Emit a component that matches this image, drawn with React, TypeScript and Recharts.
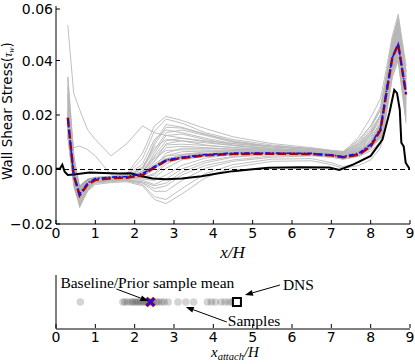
import React from "react";
import {
  ComposedChart,
  Line,
  Area,
  XAxis,
  YAxis,
  ReferenceLine,
  ScatterChart,
  Scatter,
  ReferenceDot,
} from "recharts";

// x/H stations shared by baseline, prior mean, band and samples
const xGrid = [0.3, 0.45, 0.6, 0.8, 1.0, 1.4, 1.8, 2.2, 2.5, 2.8, 3.2, 3.8, 4.5, 5.5, 6.5, 7.0, 7.3, 7.7, 8.0, 8.25, 8.4, 8.55, 8.7, 8.9];

const baseline = [0.019, -0.002, -0.0095, -0.0055, -0.0038, -0.0032, -0.003, -0.002, 0.0008, 0.0032, 0.0042, 0.0052, 0.0057, 0.0058, 0.0057, 0.0052, 0.0045, 0.0055, 0.0085, 0.0145, 0.028, 0.041, 0.046, 0.0275];
const priorMean = [0.0185, -0.002, -0.009, -0.005, -0.0033, -0.0028, -0.0026, -0.0015, 0.001, 0.0035, 0.0045, 0.0055, 0.006, 0.006, 0.0059, 0.0053, 0.0047, 0.006, 0.0092, 0.015, 0.029, 0.041, 0.046, 0.028];

const bandLow = [0.012, -0.006, -0.0135, -0.0075, -0.0042, -0.0035, -0.0033, -0.0025, 0.0003, 0.0028, 0.0039, 0.0049, 0.0055, 0.0056, 0.0055, 0.0049, 0.0042, 0.0052, 0.008, 0.012, 0.024, 0.036, 0.041, 0.02];
const bandHigh = [0.034, 0.005, -0.006, -0.0035, -0.0028, -0.0025, -0.0023, -0.0012, 0.0015, 0.0039, 0.0048, 0.0058, 0.0062, 0.0062, 0.0061, 0.0056, 0.005, 0.0065, 0.0098, 0.017, 0.033, 0.047, 0.054, 0.036];

const samples = [
  [0.053, 0.028, 0.022, 0.0147, 0.011, 0.005, 0.0095, 0.016, 0.0135, 0.0125, 0.0115, 0.0105, 0.0095, 0.0085, 0.0078, 0.007, 0.0066, 0.0095, 0.014, 0.02, 0.031, 0.044, 0.052, 0.034],
  [0.028, 0.004, -0.012, -0.007, -0.004, -0.003, -0.0015, 0.006, 0.016, 0.0195, 0.018, 0.015, 0.012, 0.0095, 0.008, 0.007, 0.0066, 0.011, 0.016, 0.022, 0.034, 0.047, 0.056, 0.036],
  [0.022, 0.008, 0.0086, 0.0073, 0.005, -0.002, -0.002, 0.004, 0.014, 0.0185, 0.017, 0.0135, 0.011, 0.009, 0.0075, 0.0065, 0.006, 0.0095, 0.014, 0.02, 0.031, 0.044, 0.054, 0.033],
  [0.03, 0.002, -0.013, -0.008, -0.0045, -0.0035, -0.003, -0.0005, 0.01, 0.0165, 0.0155, 0.013, 0.0105, 0.0085, 0.0072, 0.0062, 0.0058, 0.009, 0.013, 0.018, 0.03, 0.043, 0.052, 0.03],
  [0.015, -0.003, -0.01, -0.006, -0.004, -0.0035, -0.003, -0.001, 0.006, 0.0125, 0.013, 0.011, 0.009, 0.0078, 0.007, 0.006, 0.0055, 0.008, 0.012, 0.017, 0.029, 0.042, 0.05, 0.029],
  [0.025, 0.001, -0.011, -0.006, -0.0035, -0.003, -0.0025, 0.001, 0.008, 0.011, 0.0105, 0.009, 0.008, 0.0072, 0.0066, 0.0058, 0.0052, 0.0075, 0.011, 0.016, 0.028, 0.041, 0.049, 0.031],
  [0.018, -0.002, -0.009, -0.0055, -0.004, -0.003, -0.0028, -0.002, 0.003, 0.008, 0.0085, 0.008, 0.0075, 0.007, 0.0064, 0.0056, 0.005, 0.007, 0.01, 0.015, 0.028, 0.04, 0.048, 0.028],
  [0.02, -0.001, -0.012, -0.007, -0.005, -0.004, -0.0035, -0.0025, 0.0, 0.005, 0.0065, 0.0068, 0.0068, 0.0066, 0.0062, 0.0055, 0.0048, 0.0065, 0.0095, 0.014, 0.026, 0.039, 0.046, 0.026],
  [0.014, -0.004, -0.008, -0.005, -0.0035, -0.003, -0.003, -0.003, -0.002, 0.002, 0.0045, 0.0058, 0.0063, 0.0064, 0.006, 0.0053, 0.0046, 0.006, 0.0088, 0.0135, 0.026, 0.039, 0.045, 0.025],
  [0.022, 0.0, -0.01, -0.006, -0.004, -0.0035, -0.0032, -0.0035, -0.004, -0.002, 0.0015, 0.0042, 0.0055, 0.006, 0.0058, 0.005, 0.0043, 0.0058, 0.0085, 0.0125, 0.025, 0.038, 0.044, 0.024],
  [0.016, -0.003, -0.011, -0.0065, -0.0045, -0.004, -0.0038, -0.0045, -0.006, -0.005, -0.001, 0.0025, 0.0045, 0.0055, 0.0055, 0.0048, 0.0042, 0.0055, 0.008, 0.012, 0.024, 0.037, 0.043, 0.022],
  [0.026, 0.002, -0.013, -0.0075, -0.005, -0.0045, -0.004, -0.005, -0.008, -0.008, -0.004, 0.0005, 0.003, 0.0045, 0.005, 0.0045, 0.0038, 0.005, 0.0075, 0.0115, 0.023, 0.036, 0.042, 0.021],
  [0.013, -0.004, -0.01, -0.006, -0.0045, -0.004, -0.0042, -0.0055, -0.01, -0.011, -0.007, -0.0015, 0.0018, 0.0038, 0.004, 0.0025, 0.001, 0.0025, 0.005, 0.0095, 0.022, 0.035, 0.041, 0.019],
  [0.024, 0.001, -0.014, -0.008, -0.0055, -0.0048, -0.0045, -0.006, -0.011, -0.0125, -0.009, -0.003, 0.0008, 0.003, 0.0032, 0.0018, 0.0004, 0.0015, 0.0035, 0.008, 0.02, 0.034, 0.04, 0.018],
  [0.019, -0.002, -0.0095, -0.005, -0.0035, -0.003, -0.0028, -0.001, 0.004, 0.007, 0.0072, 0.0072, 0.007, 0.0068, 0.0066, 0.006, 0.0055, 0.008, 0.0125, 0.019, 0.032, 0.045, 0.053, 0.032],
  [0.012, -0.005, -0.008, -0.0045, -0.003, -0.0027, -0.0025, -0.0015, 0.002, 0.005, 0.0055, 0.006, 0.0062, 0.0062, 0.0062, 0.0058, 0.0052, 0.0085, 0.013, 0.02, 0.033, 0.046, 0.055, 0.034],
  [0.034, 0.006, -0.012, -0.006, -0.0035, -0.0025, -0.002, 0.002, 0.011, 0.0145, 0.0135, 0.0115, 0.0095, 0.0082, 0.0075, 0.0068, 0.0062, 0.012, 0.019, 0.026, 0.037, 0.049, 0.057, 0.038],
  [0.021, -0.001, -0.011, -0.0065, -0.0048, -0.0042, -0.004, -0.0048, -0.007, -0.006, -0.002, 0.0015, 0.0035, 0.005, 0.0052, 0.0046, 0.0038, 0.0048, 0.0068, 0.01, 0.021, 0.034, 0.04, 0.017],
  [0.017, -0.003, -0.0105, -0.006, -0.004, -0.0033, -0.003, -0.0025, 0.001, 0.004, 0.0052, 0.0058, 0.006, 0.0058, 0.0056, 0.005, 0.0044, 0.0062, 0.0095, 0.015, 0.028, 0.041, 0.049, 0.03],
  [0.028, 0.004, -0.0115, -0.006, -0.0038, -0.003, -0.0025, 0.0005, 0.007, 0.0135, 0.0145, 0.0125, 0.01, 0.0085, 0.0075, 0.0068, 0.006, 0.0105, 0.016, 0.023, 0.035, 0.048, 0.055, 0.035],
  [0.02, -0.002, -0.011, -0.0065, -0.0042, -0.0035, -0.003, -0.0015, 0.003, 0.0095, 0.0105, 0.0098, 0.0088, 0.0076, 0.0068, 0.006, 0.0053, 0.0078, 0.0115, 0.017, 0.03, 0.043, 0.05, 0.031],
  [0.023, 0.0, -0.0125, -0.007, -0.0045, -0.0038, -0.0034, -0.003, -0.003, 0.0005, 0.0035, 0.005, 0.0058, 0.006, 0.0057, 0.0051, 0.0044, 0.0058, 0.0085, 0.013, 0.026, 0.039, 0.046, 0.026],
  [0.016, -0.003, -0.0095, -0.0055, -0.0037, -0.003, -0.0027, -0.0008, 0.005, 0.0105, 0.0115, 0.0102, 0.0088, 0.0076, 0.0069, 0.0062, 0.0057, 0.0088, 0.0135, 0.02, 0.033, 0.046, 0.053, 0.033],
  [0.027, 0.002, -0.0125, -0.007, -0.0046, -0.004, -0.0037, -0.004, -0.0055, -0.0035, 0.0002, 0.0032, 0.0048, 0.0057, 0.0058, 0.0051, 0.0043, 0.0054, 0.008, 0.0125, 0.025, 0.038, 0.044, 0.023],
  [0.019, -0.002, -0.01, -0.0058, -0.0038, -0.0031, -0.0028, -0.0012, 0.0045, 0.009, 0.0093, 0.0088, 0.0081, 0.0074, 0.0068, 0.006, 0.0054, 0.0072, 0.0105, 0.016, 0.029, 0.042, 0.05, 0.03],
  [0.021, -0.001, -0.0105, -0.006, -0.0041, -0.0036, -0.0033, -0.0028, -0.0015, 0.003, 0.0055, 0.0065, 0.0067, 0.0066, 0.0063, 0.0055, 0.0047, 0.0062, 0.0092, 0.014, 0.027, 0.04, 0.047, 0.027],
  [0.031, 0.003, -0.0125, -0.0068, -0.004, -0.0032, -0.0028, 0.0003, 0.009, 0.0155, 0.0152, 0.0128, 0.0102, 0.0084, 0.0074, 0.0066, 0.006, 0.0098, 0.015, 0.022, 0.034, 0.047, 0.055, 0.036],
  [0.015, -0.004, -0.009, -0.0052, -0.0036, -0.003, -0.0028, -0.0022, 0.0008, 0.006, 0.0078, 0.0078, 0.0074, 0.007, 0.0065, 0.0058, 0.0051, 0.0068, 0.01, 0.015, 0.028, 0.041, 0.048, 0.029],
];

// DNS wall shear stress
const dnsX = [0, 0.1, 0.16, 0.22, 0.3, 0.45, 0.85, 1.2, 1.6, 1.9, 2.15, 2.45, 2.8, 3.2, 3.7, 4.1, 4.5, 5.0, 5.4, 6.2, 6.95, 7.2, 7.55, 8.0, 8.3, 8.48, 8.6, 8.67, 8.74, 8.78, 8.84, 8.89, 9.0];
const dnsTau = [0.0003, 0.0003, 0.0018, -0.0008, -0.002, -0.0018, -0.0011, -0.0013, -0.0015, -0.0014, -0.0024, -0.0033, -0.0036, -0.0033, -0.0025, -0.0015, -0.0006, 0.0001, 0.0006, 0.0008, 0.0007, -0.0002, 0.0018, 0.005, 0.011, 0.021, 0.0292, 0.028, 0.022, 0.0098, 0.0085, 0.0025, 0.0];

const xTicks = [0, 1, 2, 3, 4, 5, 6, 7, 8, 9];
const yTicks = [-0.02, 0, 0.02, 0.04, 0.06];
const yTickLabels = ["\u22120.02", "0.00", "0.02", "0.04", "0.06"];

// reattachment points x_attach/H
const attachSamples = [0.62, 1.7, 1.75, 1.82, 1.9, 1.95, 2.0, 2.05, 2.1, 2.15, 2.2, 2.25, 2.3, 2.35, 2.42, 2.48, 2.55, 2.6, 2.68, 2.75, 2.85, 3.1, 3.3, 3.5, 3.85, 3.95, 4.05, 4.2, 4.3, 4.4, 4.48];
const attachBaseline = 2.4;
const attachDNS = 4.6;

const rows = xGrid.map((x, i) => {
  const r: any = { x, base: baseline[i], mean: priorMean[i], band: [bandLow[i], bandHigh[i]] };
  samples.forEach((s, j) => (r["s" + j] = s[i]));
  return r;
});
const dnsRows = dnsX.map((x, i) => ({ x, tau: dnsTau[i] }));

const tickFont = { fontFamily: "DejaVu Sans", fontSize: 14, fill: "#000" };
const serif = "Liberation Serif";

const BottomTick = (p: any) => (
  <g>
    <line x1={p.x} x2={p.x} y1={p.y - 3} y2={p.y - 7} stroke="#000" />
    <text x={p.x} y={p.y} dy="0.75em" textAnchor="middle" {...tickFont}>{p.payload.value}</text>
  </g>
);
const TopTick = (p: any) => <line x1={p.x} x2={p.x} y1={p.y} y2={p.y + 4} stroke="#000" />;
const RightTick = (p: any) => <line x1={p.x} x2={p.x - 4} y1={p.y} y2={p.y} stroke="#000" />;
const LeftTick = (p: any) => (
  <g>
    <line x1={p.x + 3} x2={p.x + 7} y1={p.y} y2={p.y} stroke="#000" />
    <text x={p.x} y={p.y} dy="0.36em" textAnchor="end" {...tickFont}>
      {yTickLabels[yTicks.indexOf(p.payload.value)]}
    </text>
  </g>
);

const Arrow = ({ x1, y1, x2, y2 }: any) => {
  const a = Math.atan2(y2 - y1, x2 - x1);
  const L = 8, W = 3;
  const bx = x2 - L * Math.cos(a), by = y2 - L * Math.sin(a);
  const px = -Math.sin(a) * W, py = Math.cos(a) * W;
  return (
    <g>
      <line x1={x1} y1={y1} x2={bx} y2={by} stroke="#000" strokeWidth={1} />
      <polygon points={`${x2},${y2} ${bx + px},${by + py} ${bx - px},${by - py}`} fill="#000" />
    </g>
  );
};

const dot = (p: any) => <circle cx={p.cx} cy={p.cy} r={3.8} fill="#000" fillOpacity={0.17} />;
const baseMark = (p: any) => (
  <g>
    <path d={`M${p.cx - 4},${p.cy - 4}L${p.cx + 4},${p.cy + 4}M${p.cx - 4},${p.cy + 4}L${p.cx + 4},${p.cy - 4}`} stroke="#b00000" strokeWidth={3.5} />
    <path d={`M${p.cx - 3.5},${p.cy - 3.5}L${p.cx + 3.5},${p.cy + 3.5}M${p.cx - 3.5},${p.cy + 3.5}L${p.cx + 3.5},${p.cy - 3.5}`} stroke="#1010ff" strokeWidth={1.8} />
  </g>
);
const dnsMark = (p: any) => <rect x={p.cx - 4} y={p.cy - 4} width={8} height={8} fill="#fff" stroke="#000" strokeWidth={2} />;

export default function App() {
  return (
    <div style={{ position: "absolute", left: 0, top: 0, width: 415, height: 364, background: "#fff" }}>
      <ComposedChart width={415} height={262} data={rows} margin={{ top: 6, right: 5, bottom: 0, left: 0 }}>
        <XAxis dataKey="x" type="number" domain={[0, 9]} ticks={xTicks} allowDataOverflow height={38}
          tickSize={0} tickMargin={3} tick={BottomTick} axisLine={{ stroke: "#000" }} />
        <XAxis xAxisId="top" orientation="top" type="number" domain={[0, 9]} ticks={xTicks} allowDataOverflow height={0}
          tickSize={0} tickMargin={0} tick={TopTick} axisLine={{ stroke: "#000" }} />
        <YAxis type="number" domain={[-0.02, 0.06]} ticks={yTicks} allowDataOverflow width={56}
          tickSize={0} tickMargin={3} tick={LeftTick} axisLine={{ stroke: "#000" }} />
        <YAxis yAxisId="right" orientation="right" type="number" domain={[-0.02, 0.06]} ticks={yTicks} allowDataOverflow width={0}
          tickSize={0} tickMargin={0} tick={RightTick} axisLine={{ stroke: "#000" }} />
        {samples.map((_, j) => (
          <Line key={j} dataKey={"s" + j} type="linear" stroke="#b8b8b8" strokeWidth={0.9} dot={false} isAnimationActive={false} />
        ))}
        <Area dataKey="band" type="linear" fill="#8c8c8c" fillOpacity={0.7} stroke="#808080" strokeWidth={0.5} isAnimationActive={false} />
        <ReferenceLine y={0} stroke="#000" strokeDasharray="5 3" />
        <Line data={dnsRows} dataKey="tau" type="linear" stroke="#000" strokeWidth={2} dot={false} isAnimationActive={false} />
        <Line dataKey="base" type="linear" stroke="#b00000" strokeWidth={2.5} strokeDasharray="9 3" dot={false} isAnimationActive={false} />
        <Line dataKey="mean" type="linear" stroke="#1010ff" strokeWidth={1.6} strokeDasharray="5 2 1.5 2" dot={false} isAnimationActive={false} />
      </ComposedChart>

      <div style={{ position: "absolute", left: 0, top: 268 }}>
        <ScatterChart width={415} height={81} margin={{ top: 7, right: 5, bottom: 0, left: 0 }}>
          <XAxis dataKey="x" type="number" domain={[0, 9]} ticks={xTicks} allowDataOverflow height={20}
            tickSize={0} tickMargin={2} tick={BottomTick} axisLine={{ stroke: "#000" }} />
          <XAxis xAxisId="top" orientation="top" type="number" domain={[0, 9]} ticks={xTicks} allowDataOverflow height={0}
            tickSize={0} tickMargin={0} tick={TopTick} axisLine={{ stroke: "#000" }} />
          <YAxis dataKey="y" type="number" domain={[0, 1]} allowDataOverflow width={56} tick={false} tickLine={false} axisLine={{ stroke: "#000" }} />
          <YAxis yAxisId="right" orientation="right" type="number" domain={[0, 1]} allowDataOverflow width={0} tick={false} tickLine={false} axisLine={{ stroke: "#000" }} />
          <Scatter data={attachSamples.map((x) => ({ x, y: 0.5 }))} shape={dot} isAnimationActive={false} />
          <Scatter data={[{ x: attachBaseline, y: 0.5 }]} shape={baseMark} isAnimationActive={false} />
          <Scatter data={[{ x: attachDNS, y: 0.5 }]} shape={dnsMark} isAnimationActive={false} />
          <ReferenceDot x={attachBaseline} y={0.5} r={0} ifOverflow="visible" shape={(p: any) => (
            <g>
              <text x={p.cx - 90} y={p.cy - 14} fontFamily={serif} fontSize={15.5} fill="#000">Baseline/Prior sample mean</text>
              <Arrow x1={p.cx - 34} y1={p.cy - 13} x2={p.cx - 2} y2={p.cy - 1} />
            </g>
          )} />
          <ReferenceDot x={attachDNS} y={0.5} r={0} ifOverflow="visible" shape={(p: any) => (
            <g>
              <text x={p.cx + 46} y={p.cy - 12} fontFamily={serif} fontSize={15.5} fill="#000">DNS</text>
              <Arrow x1={p.cx + 43} y1={p.cy - 17} x2={p.cx + 8} y2={p.cy - 7} />
            </g>
          )} />
          <ReferenceDot x={3.3} y={0.5} r={0} ifOverflow="visible" shape={(p: any) => (
            <g>
              <text x={p.cx + 42} y={p.cy + 24} fontFamily={serif} fontSize={15.5} fill="#000">Samples</text>
              <Arrow x1={p.cx + 41} y1={p.cy + 20} x2={p.cx} y2={p.cy + 5} />
            </g>
          )} />
        </ScatterChart>
      </div>

      <svg width={415} height={364} style={{ position: "absolute", left: 0, top: 0, pointerEvents: "none" }}>
        <text transform="translate(12,111) rotate(-90)" textAnchor="middle" fill="#000">
          <tspan fontFamily="DejaVu Sans" fontSize={13.5}>Wall Shear Stress(</tspan>
          <tspan fontFamily={serif} fontStyle="italic" fontSize={12}>τ</tspan>
          <tspan fontFamily={serif} fontStyle="italic" fontSize={8} dy={2}>w</tspan>
          <tspan fontFamily="DejaVu Sans" fontSize={13.5} dy={-2}>)</tspan>
        </text>
        <text x={232.5} y={258} textAnchor="middle" fontFamily={serif} fontStyle="italic" fontSize={17} fill="#000">x/H</text>
        <text x={235} y={357} textAnchor="middle" fontFamily={serif} fontStyle="italic" fontSize={15} fill="#000">
          x<tspan fontSize={10.5} dy={3}>attach</tspan><tspan dy={-3}>/H</tspan>
        </text>
      </svg>
    </div>
  );
}
